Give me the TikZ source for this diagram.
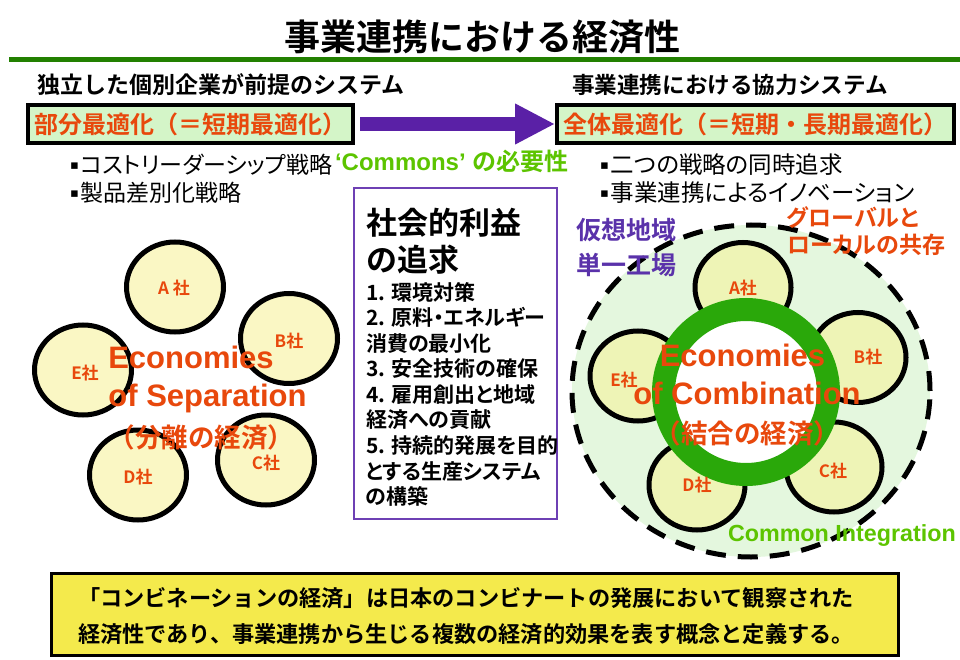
\documentclass[tikz,border=0pt]{standalone}
\usepackage{fontspec}
\usetikzlibrary{shapes.geometric,arrows.meta}
\newfontfamily\jpf{Noto Sans CJK JP}[BoldFont={Noto Sans CJK JP Bold}]
\newfontfamily\jpp{Noto Sans CJK JP}[BoldFont={Noto Sans CJK JP Bold},RawFeature=+palt]
\newfontfamily\lat{Liberation Sans}
\newfontfamily\djv{DejaVu Sans}
\newcommand\setfs[1]{\fontsize{#1}{#1}\selectfont}
\newcommand\bul{\raisebox{4.5pt}{\djv\setfs{13}▪}\hspace{2pt}}
\definecolor{orng}{RGB}{232,72,12}
\definecolor{tgreen}{RGB}{34,128,0}
\definecolor{boxg}{RGB}{212,245,200}
\definecolor{arrp}{RGB}{90,32,166}
\definecolor{cgreen}{RGB}{92,196,0}
\definecolor{mpur}{RGB}{110,64,180}
\definecolor{vpur}{RGB}{90,50,170}
\definecolor{lyel}{RGB}{250,247,196}
\definecolor{ryel}{RGB}{238,244,182}
\definecolor{bgg}{RGB}{228,247,222}
\definecolor{ringg}{RGB}{42,168,10}
\definecolor{byel}{RGB}{244,234,76}
\begin{document}
\begin{tikzpicture}[x=1pt,y=-1pt,
  txt/.style={inner sep=0pt,outer sep=0pt},
  optbox/.style={draw=black,line width=4pt,fill=boxg,text=orng,inner sep=0pt,
     minimum height=38pt,font=\jpf\bfseries\setfs{24}},
  bigarrow/.style={line width=14pt,draw=arrp,-{Triangle[length=40pt,width=38pt]}},
  lcirc/.style={ellipse,draw=black,line width=5pt,fill=lyel,inner sep=0pt,
     minimum width=97pt,minimum height=90pt},
  rcirc/.style={ellipse,draw=black,line width=5pt,fill=ryel,inner sep=0pt,
     minimum width=96pt,minimum height=90pt},
  clbl/.style={txt,text=orng,font=\jpf\bfseries\setfs{17}},
  econ/.style={txt,anchor=base,text=orng,font=\lat\bfseries\setfs{31}},
  econj/.style={txt,text=orng,font=\jpf\bfseries\setfs{26.5}},
  bullet/.style={txt,anchor=west,font=\jpp\setfs{23}},
  item/.style={txt,anchor=west,font=\jpp\bfseries\setfs{21}},
  bline/.style={txt,anchor=west,font=\jpf\bfseries\setfs{22.2}}]
\useasboundingbox (0,0) rectangle (960,660);
\fill[white] (0,0) rectangle (960,660);
% title
\node[txt,font=\jpf\bfseries\setfs{36}] (title) at (482,37) {事業連携における経済性};
\coordinate (gl1) at (9,60);
\coordinate (gl2) at (960,60);
\draw[line width=5pt,tgreen] (gl1) -- (gl2);
% headers
\node[txt,anchor=west,font=\jpf\bfseries\setfs{23}] (hl) at (37,85) {独立した個別企業が前提のシステム};
\node[txt,anchor=west,font=\jpf\bfseries\setfs{22.6}] (hr) at (572,85) {事業連携における協力システム};
% boxes and arrow
\node[optbox,minimum width=325pt] (lbox) at (190.5,124) {部分最適化（＝短期最適化）};
\node[optbox,minimum width=397pt] (rbox) at (755.5,124) {全体最適化（＝短期・長期最適化）};
\draw[bigarrow] ([xshift=5pt]lbox.east) -- (rbox.west);
% bullets
\node[bullet] (b1) at (70,165) {\bul コストリーダーシップ戦略};
\node[bullet] (b2) at (70,193) {\bul 製品差別化戦略};
\node[txt,anchor=base west,text=cgreen] (cm) at (335,171) {\lat\bfseries\setfs{24}‘Commons’ \jpf\bfseries の必要性};
\node[bullet,font=\jpp\setfs{23.5}] (b3) at (600,165) {\bul 二つの戦略の同時追求};
\node[bullet,font=\jpp\setfs{23.5}] (b4) at (600,193) {\bul 事業連携によるイノベーション};
% middle box
\node[draw=mpur,line width=2pt,minimum width=203pt,minimum height=331pt,inner sep=0pt] (mbox) at (455.5,353.5) {};
\node[txt,anchor=west,font=\jpf\bfseries\setfs{31}] (mt1) at (366,223) {社会的利益};
\node[txt,anchor=west,font=\jpf\bfseries\setfs{31}] (mt2) at (366,260) {の追求};
\node[item] (i1) at (366,292) {1. 環境対策};
\node[item] (i2) at (366,317.6) {2. 原料・エネルギー};
\node[item] (i3) at (366,343.2) {消費の最小化};
\node[item] (i4) at (366,368.8) {3. 安全技術の確保};
\node[item] (i5) at (366,394.4) {4. 雇用創出と地域};
\node[item] (i6) at (366,420) {経済への貢献};
\node[item] (i7) at (366,445.6) {5. 持続的発展を目的};
\node[item] (i8) at (366,471.2) {とする生産システム};
\node[item] (i9) at (366,496.8) {の構築};
% left circles
\node[lcirc] (la) at (175,287) {};
\node[lcirc] (lb) at (289,338.5) {};
\node[lcirc] (le) at (83,370) {};
\node[lcirc] (ld) at (138,475) {};
\node[lcirc] (lc) at (266,460) {};
\node[clbl] (lat) at (174,288) {A 社};
\node[clbl] (lbt) at (289,341) {B社};
\node[clbl] (let) at (85,373) {E社};
\node[clbl] (ldt) at (138,477) {D社};
\node[clbl] (lct) at (266,463) {C社};
\node[econ] (le1) at (191,368) {Economies};
\node[econ] (le2) at (207.5,406) {of Separation};
\node[econj] (le3) at (201.5,437) {（分離の経済）};
% right side
\node[ellipse,draw=black,fill=bgg,line width=5pt,dash pattern=on 20pt off 12pt,
  minimum width=358pt,minimum height=332pt,inner sep=0pt] (big) at (751,391) {};
\node[rcirc] (ra) at (743,287.5) {};
\node[rcirc] (rb) at (858,357.5) {};
\node[rcirc] (re) at (638,376) {};
\node[rcirc] (rd) at (697,485) {};
\node[rcirc] (rc) at (834,467) {};
\node[circle,draw=ringg,line width=23pt,fill=white,minimum size=165pt,inner sep=0pt] (ring) at (746,392) {};
\node[clbl] (rat) at (743,288) {A社};
\node[clbl] (rbt) at (868,357) {B社};
\node[clbl] (ret) at (624,380) {E社};
\node[clbl] (rdt) at (697,485) {D社};
\node[clbl] (rct) at (833,471) {C社};
\node[econ] (re1) at (742.5,366) {Economies};
\node[econ] (re2) at (747,404) {of Combination};
\node[econj] (re3) at (747.5,433) {（結合の経済）};
\node[txt,anchor=west,text=vpur,font=\jpf\bfseries\setfs{25}] (v1) at (576,230) {仮想地域};
\node[txt,anchor=west,text=vpur,font=\jpf\bfseries\setfs{25}] (v2) at (576,265) {単一工場};
\node[txt,anchor=west,text=orng,font=\jpp\bfseries\setfs{23}] (g1) at (787,218) {グローバルと};
\node[txt,anchor=west,text=orng,font=\jpp\bfseries\setfs{23}] (g2) at (787,245) {ローカルの共存};
\node[txt,anchor=base west,text=cgreen,font=\lat\bfseries\setfs{23.3}] (ci) at (728,541) {Common Integration};
% bottom box
\node[draw=black,line width=3pt,fill=byel,minimum width=847pt,minimum height=82pt,inner sep=0pt] (bbox) at (475,614.5) {};
\node[bline] (bl1) at (78,598) {「コンビネーションの経済」は日本のコンビナートの発展において観察された};
\node[bline] (bl2) at (78,634) {経済性であり、事業連携から生じる複数の経済的効果を表す概念と定義する。};
\end{tikzpicture}
\end{document}
